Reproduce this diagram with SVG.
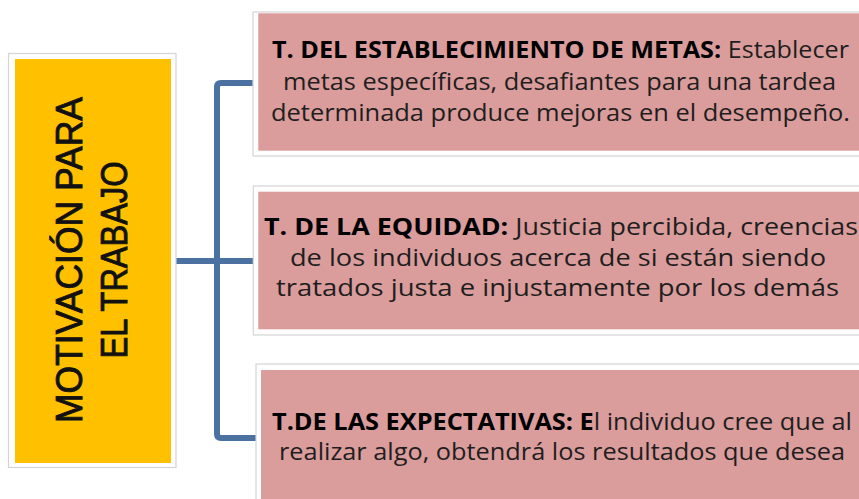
<svg xmlns="http://www.w3.org/2000/svg" width="859" height="499" viewBox="0 0 859 499">
  <style>
    .frame { fill: #ffffff; stroke: #d4d4d4; stroke-width: 1.2; }
    .pink { fill: #db9c9c; }
    .yellow { fill: #ffc000; }
    .body { font-family: "Open Sans", "Noto Sans", "Liberation Sans", sans-serif; font-size: 24px; fill: #1e1e1e; }
    .b { font-weight: bold; fill: #000000; }
    .title { font-family: "Liberation Sans", Arial, sans-serif; font-size: 36px; fill: #111111; stroke: #111111; stroke-width: 0.9; }
    .conn { fill: none; stroke: #4a71a0; stroke-width: 6; stroke-linejoin: round; }
  </style>
  <rect width="859" height="499" fill="#ffffff"/>

  <g id="connectors">
    <path class="conn" d="M 176 261 L 254 261"/>
    <path class="conn" d="M 254 83 L 221 83 Q 217 83 217 87 L 217 434 Q 217 438 221 438 L 256 438"/>
  </g>

  <g id="node-motivacion">
    <rect class="frame" x="8.5" y="53.5" width="167.5" height="414"/>
    <rect class="yellow" x="15" y="59" width="156" height="404"/>
    <text class="title" transform="translate(82,260) rotate(-90)" text-anchor="middle" textLength="326" lengthAdjust="spacingAndGlyphs">MOTIVACIÓN PARA</text>
    <text class="title" transform="translate(127,260) rotate(-90)" text-anchor="middle" textLength="197" lengthAdjust="spacingAndGlyphs">EL TRABAJO</text>
  </g>

  <g id="node-metas">
    <rect class="frame" x="253" y="12" width="620" height="144"/>
    <rect class="pink" x="258.3" y="13.3" width="610" height="137.4"/>
    <text class="body" x="272" y="58" textLength="577" lengthAdjust="spacingAndGlyphs"><tspan class="b">T. DEL ESTABLECIMIENTO DE METAS:</tspan> Establecer</text>
    <text class="body" x="283" y="90" textLength="553" lengthAdjust="spacingAndGlyphs">metas específicas, desafiantes para una tardea</text>
    <text class="body" x="271" y="120.5" textLength="579" lengthAdjust="spacingAndGlyphs">determinada produce mejoras en el desempeño.</text>
  </g>

  <g id="node-equidad">
    <rect class="frame" x="253.3" y="186" width="620" height="149"/>
    <rect class="pink" x="258.3" y="191.7" width="610" height="137.6"/>
    <text class="body" x="264" y="235" textLength="594" lengthAdjust="spacingAndGlyphs"><tspan class="b">T. DE LA EQUIDAD:</tspan> Justicia percibida, creencias</text>
    <text class="body" x="290" y="266" textLength="536" lengthAdjust="spacingAndGlyphs">de los individuos acerca de si están siendo</text>
    <text class="body" x="276" y="296" textLength="563" lengthAdjust="spacingAndGlyphs">tratados justa e injustamente por los demás</text>
  </g>

  <g id="node-expectativas">
    <rect class="frame" x="256" y="364" width="620" height="150"/>
    <rect class="pink" x="261" y="370" width="610" height="140"/>
    <text class="body" x="272" y="430" textLength="580" lengthAdjust="spacingAndGlyphs"><tspan class="b">T.DE LAS EXPECTATIVAS: E</tspan>l individuo cree que al</text>
    <text class="body" x="279" y="460" textLength="566" lengthAdjust="spacingAndGlyphs">realizar algo, obtendrá los resultados que desea</text>
  </g>
</svg>
